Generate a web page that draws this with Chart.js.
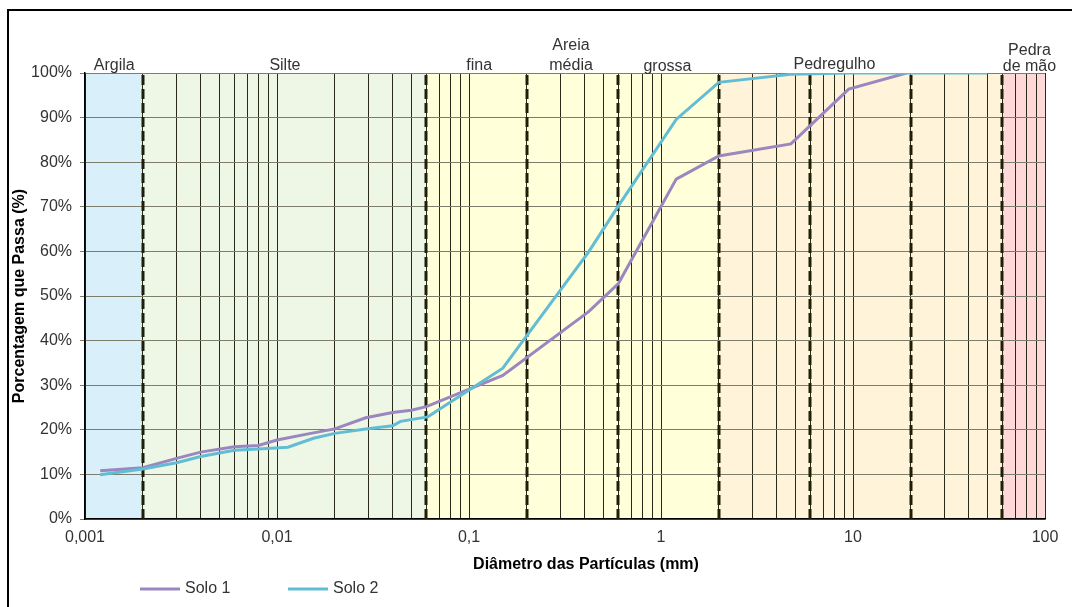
<!DOCTYPE html>
<html>
<head>
<meta charset="utf-8">
<style>
  html, body { margin: 0; padding: 0; background: #ffffff; }
  #wrap { position: relative; width: 1072px; height: 607px; }
</style>
<script src="https://cdn.jsdelivr.net/npm/chart.js@4.4.1/dist/chart.umd.min.js"></script>
</head>
<body>
<div id="wrap"><canvas id="granulometria" width="1072" height="607"></canvas></div>
<script>
// Curvas granulométricas: diâmetro (mm) x porcentagem que passa (%)
const solo1Diam = [0.0012, 0.002, 0.003, 0.004, 0.006, 0.008, 0.01, 0.015, 0.02, 0.029, 0.04, 0.05, 0.06, 0.15, 0.42, 0.6, 1.2, 2.0, 4.75, 9.5, 19];
const solo1Pass = [10.8, 11.5, 13.6, 15.0, 16.2, 16.5, 17.7, 19.2, 20.2, 22.7, 23.9, 24.4, 25.2, 32.2, 46.5, 52.8, 76.2, 81.4, 84.1, 96.4, 100];
const solo2Diam = [0.0012, 0.002, 0.003, 0.004, 0.006, 0.008, 0.0114, 0.0155, 0.02, 0.029, 0.04, 0.044, 0.061, 0.15, 0.42, 0.6, 1.2, 2.0, 4.75, 9.5, 19, 50];
const solo2Pass = [9.9, 11.2, 12.6, 14.0, 15.4, 15.7, 16.1, 18.1, 19.2, 20.2, 20.9, 21.9, 22.9, 33.8, 59.9, 70.2, 89.6, 97.9, 99.7, 100, 100, 100];

// Eixo x (escala logarítmica)
const xTickValues = [0.001, 0.01, 0.1, 1, 10, 100];
const xTickLabels = ['0,001', '0,01', '0,1', '1', '10', '100'];

// Faixas de classificação
const zoneBounds = [0.001, 0.002, 0.06, 2, 60, 100];
const zoneColors = ['#d9f0fa', '#eef6e5', '#ffffda', '#fff4da', '#ffd9d9'];
const divisionLines = [0.002, 0.06, 0.2, 0.6, 2, 6, 20, 60];
const zoneTexts = ['Argila', 'Silte', 'fina', 'Areia', 'média', 'grossa', 'Pedregulho', 'Pedra', 'de mão'];

const labelLayout = [
  { d: 0.00142, y: 70 }, { d: 0.011, y: 70 }, { d: 0.113, y: 70 },
  { d: 0.34, y: 50 }, { d: 0.34, y: 70 }, { d: 1.08, y: 71 },
  { d: 8.0, y: 69 }, { d: 83, y: 55 }, { d: 83, y: 71 }
];

// Linhas de grade verticais em 1..9 x 10^k
const xGridValues = [];
for (let e = -3; e <= 1; e++) {
  for (let m = 1; m <= 9; m++) xGridValues.push(+(m * Math.pow(10, e)).toPrecision(3));
}
xGridValues.push(100);

const FONT = '"Liberation Sans", Arial, sans-serif';
const TEXT = '#333333';
const COLOR1 = '#9b87bf';
const COLOR2 = '#62bdd4';

const soilPlugin = {
  id: 'soilPlugin',
  beforeDraw(chart) {
    const { ctx, chartArea: a, scales: { x } } = chart;
    ctx.save();
    for (let i = 0; i < zoneColors.length; i++) {
      const x0 = x.getPixelForValue(zoneBounds[i]);
      const x1 = x.getPixelForValue(zoneBounds[i + 1]);
      ctx.fillStyle = zoneColors[i];
      ctx.fillRect(x0, a.top, x1 - x0, a.bottom - a.top);
    }
    ctx.restore();
  },
  beforeDatasetsDraw(chart) {
    const { ctx, chartArea: a, scales: { x } } = chart;
    ctx.save();
    ctx.strokeStyle = '#1f1f08';
    ctx.lineWidth = 3;
    ctx.setLineDash([10, 4]);
    divisionLines.forEach(d => {
      const px = Math.round(x.getPixelForValue(d));
      ctx.beginPath();
      ctx.moveTo(px, a.bottom);
      ctx.lineTo(px, a.top);
      ctx.stroke();
    });
    ctx.restore();
  },
  afterDraw(chart) {
    const { ctx, chartArea: a, scales: { x } } = chart;
    ctx.save();
    // rótulos das faixas
    ctx.fillStyle = TEXT;
    ctx.font = '16px ' + FONT;
    ctx.textAlign = 'center';
    ctx.textBaseline = 'alphabetic';
    zoneTexts.forEach((t, i) => {
      ctx.fillText(t, x.getPixelForValue(labelLayout[i].d), labelLayout[i].y);
    });
    // títulos dos eixos
    ctx.fillStyle = '#000000';
    ctx.font = 'bold 16px ' + FONT;
    ctx.textBaseline = 'middle';
    ctx.fillText('Diâmetro das Partículas (mm)', 586, 565);
    ctx.save();
    ctx.translate(20, (a.top + a.bottom) / 2);
    ctx.rotate(-Math.PI / 2);
    ctx.fillText('Porcentagem que Passa (%)', 0, 0);
    ctx.restore();
    // legenda
    const legend = [
      { label: chart.data.datasets[0].label, color: chart.data.datasets[0].borderColor, x0: 140 },
      { label: chart.data.datasets[1].label, color: chart.data.datasets[1].borderColor, x0: 288 }
    ];
    ctx.font = '16px ' + FONT;
    ctx.textAlign = 'left';
    legend.forEach(l => {
      ctx.strokeStyle = l.color;
      ctx.lineWidth = 3;
      ctx.beginPath();
      ctx.moveTo(l.x0, 589);
      ctx.lineTo(l.x0 + 40, 589);
      ctx.stroke();
      ctx.fillStyle = TEXT;
      ctx.fillText(l.label, l.x0 + 45, 589);
    });
    // moldura
    ctx.strokeStyle = '#000000';
    ctx.lineWidth = 2;
    ctx.beginPath();
    ctx.moveTo(8, 607);
    ctx.lineTo(8, 10);
    ctx.lineTo(1072, 10);
    ctx.stroke();
    ctx.restore();
  }
};

new Chart(document.getElementById('granulometria'), {
  type: 'scatter',
  data: {
    datasets: [
      {
        label: 'Solo 1',
        data: solo1Diam.map((d, i) => ({ x: d, y: solo1Pass[i] })),
        showLine: true, borderColor: COLOR1, backgroundColor: COLOR1,
        borderWidth: 3, pointRadius: 0, tension: 0, order: 2
      },
      {
        label: 'Solo 2',
        data: solo2Diam.map((d, i) => ({ x: d, y: solo2Pass[i] })),
        showLine: true, borderColor: COLOR2, backgroundColor: COLOR2,
        borderWidth: 3, pointRadius: 0, tension: 0, order: 1
      }
    ]
  },
  options: {
    responsive: false,
    animation: false,
    devicePixelRatio: 1,
    layout: { padding: { left: 0, right: 27, top: 73, bottom: 0 } },
    plugins: { legend: { display: false }, tooltip: { enabled: false } },
    scales: {
      x: {
        type: 'logarithmic',
        min: 0.001, max: 100,
        afterBuildTicks: s => { s.ticks = xGridValues.map(v => ({ value: v })); },
        afterFit: s => { s.height = 88; },
        grid: { color: '#2a2a18', lineWidth: 1, drawTicks: false },
        border: { display: true, color: '#000000', width: 1.5 },
        ticks: {
          autoSkip: false, maxRotation: 0, padding: 9,
          color: TEXT, font: { family: FONT, size: 16 },
          callback: v => {
            const i = xTickValues.findIndex(t => Math.abs(Math.log10(t) - Math.log10(v)) < 1e-6);
            return i >= 0 ? xTickLabels[i] : '';
          }
        }
      },
      y: {
        min: 0, max: 100,
        afterFit: s => { s.width = 85; },
        grid: { color: '#7d7d6c', lineWidth: 1, drawTicks: true, tickLength: 5 },
        border: { display: true, color: '#000000', width: 1.5 },
        ticks: {
          stepSize: 10, padding: 8,
          color: TEXT, font: { family: FONT, size: 16 },
          callback: v => v + '%'
        }
      }
    }
  },
  plugins: [soilPlugin]
});
</script>
</body>
</html>
